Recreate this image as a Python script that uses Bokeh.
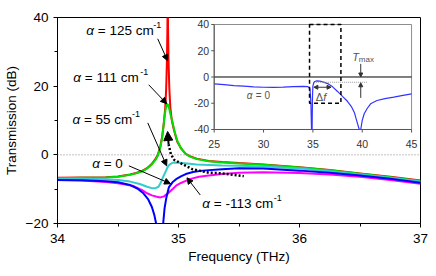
from bokeh.plotting import figure
from bokeh.models import (Range1d, FixedTicker, Arrow, NormalHead, Span, ColumnDataSource)
from bokeh.core.properties import value
from bokeh.embed import file_html
from bokeh.resources import INLINE

FONT = "Liberation Sans"

# ---------------- main data (frequency THz, transmission dB) ----------------
f_red = [34.0, 34.2, 34.4, 34.5, 34.6, 34.65, 34.7, 34.74, 34.78, 34.81, 34.83, 34.85,
         34.865, 34.878, 34.89, 34.898, 34.904, 34.908, 34.911, 34.914, 34.918, 34.924,
         34.932, 34.945, 34.96, 34.975, 34.99, 35.02, 35.06, 35.1, 35.15, 35.25, 35.36,
         35.5, 35.7, 36.0, 36.25, 36.5, 36.75, 37.0]
db_red = [-6.7, -6.6, -6.5, -6.3, -5.7, -5.3, -4.7, -3.9, -2.6, -1.2, 0.1, 2.5,
          5.3, 9.0, 13.5, 19.0, 27.0, 36.0, 46.0, 36.0, 27.0, 19.5,
          14.0, 10.0, 7.6, 5.6, 3.8, 1.9, 0.3, -0.5, -1.1, -1.8, -2.1,
          -2.4, -2.8, -3.6, -4.4, -5.4, -6.4, -7.5]

f_green = [34.0, 34.2, 34.4, 34.5, 34.6, 34.65, 34.7, 34.74, 34.78, 34.81, 34.83, 34.85,
           34.865, 34.875, 34.885, 34.895, 34.905, 34.915, 34.925, 34.935, 34.945, 34.957,
           34.97, 34.99, 35.02, 35.06, 35.1, 35.15, 35.25, 35.36, 35.5, 35.7, 36.0, 36.25,
           36.5, 36.75, 37.0]
db_green = [-6.8, -6.7, -6.6, -6.4, -5.8, -5.4, -4.8, -4.0, -2.8, -1.5, -0.2, 2.2,
            5.0, 8.0, 11.2, 13.6, 14.8, 14.5, 13.2, 11.6, 10.3, 8.5,
            6.5, 4.1, 2.0, 0.2, -0.6, -1.2, -1.9, -2.2, -2.5, -2.9, -3.7, -4.5,
            -5.5, -6.5, -7.6]

f_cyan = [34.0, 34.2, 34.4, 34.5, 34.6, 34.68, 34.74, 34.78, 34.81, 34.835, 34.855, 34.875,
          34.896, 34.91, 34.924, 34.95, 34.978, 35.03, 35.15, 35.36, 35.5, 35.7, 36.0,
          36.25, 36.5, 36.75, 37.0]
db_cyan = [-7.0, -7.0, -7.1, -7.3, -7.8, -8.5, -9.3, -9.7, -9.7, -9.3, -8.0, -6.3,
           -4.7, -3.6, -2.9, -2.3, -2.2, -2.4, -2.8, -3.1, -3.2, -3.4, -4.0,
           -4.8, -5.7, -6.7, -7.8]

f_blue = [34.0, 34.2, 34.4, 34.5, 34.6, 34.66, 34.71, 34.75, 34.78, 34.80, 34.815, 34.83,
          34.845, 34.86, 34.872, 34.885, 34.90, 34.92, 34.95, 34.98, 35.02, 35.06, 35.12,
          35.2, 35.36, 35.5, 35.7, 36.0, 36.25, 36.5, 36.75, 37.0]
db_blue = [-7.3, -7.4, -7.7, -8.0, -8.8, -9.8, -11.2, -13.0, -15.2, -17.5, -20.0, -24.0,
           -30.0, -25.0, -20.5, -15.5, -12.4, -9.5, -8.0, -7.1, -6.3, -5.6, -5.0,
           -4.6, -4.2, -3.9, -4.0, -4.6, -5.2, -6.0, -7.0, -8.1]

f_mag = [34.0, 34.2, 34.4, 34.5, 34.62, 34.70, 34.74, 34.78, 34.82, 34.85, 34.88, 34.92,
         34.95, 34.98, 35.02, 35.06, 35.1, 35.17, 35.25, 35.36, 35.5, 35.7, 36.0, 36.25,
         36.5, 36.75, 37.0]
db_mag = [-7.3, -7.5, -7.9, -8.3, -9.0, -10.3, -11.2, -11.8, -12.2, -12.4, -12.1, -11.0,
          -10.0, -9.0, -8.2, -7.6, -7.0, -6.4, -6.0, -5.6, -5.2, -5.1, -5.3, -5.7,
          -6.4, -7.3, -8.4]

# black dotted trend of the peaks
f_trend = [34.918, 34.937, 34.965, 35.033, 35.115, 35.25, 35.36, 35.54]
db_trend = [3.1, 0.2, -1.5, -2.7, -4.2, -5.2, -5.4, -6.2]

# ---------------- inset data (alpha = 0, 25-45 THz) ----------------
f_inset = [25.0, 26.0, 27.0, 28.0, 29.0, 30.0, 31.0, 32.0, 33.0, 34.0, 34.5, 34.7,
           34.8, 34.86, 34.92, 34.96, 35.0, 35.1, 35.2, 35.4, 35.7, 36.0, 36.5, 37.0,
           37.5, 38.0, 38.5, 38.9, 39.2, 39.5, 39.7, 39.85, 40.0, 40.2, 40.5, 40.85,
           41.5, 42.3, 43.2, 44.0, 45.0]
db_inset = [-5.2, -5.8, -6.5, -7.0, -7.5, -7.8, -7.9, -7.7, -7.4, -7.2, -7.4, -9.0,
            -20.0, -40.0, -40.0, -15.0, -7.0, -4.2, -3.4, -3.0, -3.2, -3.7, -5.0, -7.5,
            -11.0, -14.8, -18.5, -22.5, -27.0, -35.0, -40.0, -40.0, -33.0, -28.0, -24.0, -20.4,
            -17.9, -16.5, -15.4, -14.2, -12.8]
tmax_level = -4.0
tmax_span = [35.3, 40.5]
box_f = [34.66, 37.84]
box_db = [-20.0, 40.0]

# labels / ticks
alpha_labels = ["= 125 cm", "= 111 cm", "= 55 cm", "= 0", "= -113 cm"]
sup_labels = ["-1", "-1", "-1", "", "-1"]
x_ticks = [34, 35, 36, 37]
y_ticks = [-20, 0, 20, 40]
inset_x_ticks = [25, 30, 35, 40, 45]
inset_y_ticks = [-40, -20, 0, 20, 40]

# ---------------- figure ----------------
W, H = 436, 276
p = figure(width=W, height=H, x_range=Range1d(34, 37), y_range=Range1d(-20, 40),
           output_backend="svg", toolbar_location=None,
           min_border_left=54, min_border_right=16, min_border_top=17, min_border_bottom=53)
p.xgrid.visible = False
p.ygrid.visible = False
p.outline_line_color = "black"
p.outline_line_width = 1
p.background_fill_color = "white"
p.border_fill_color = "white"

for ax in (p.xaxis[0], p.yaxis[0]):
    ax.axis_line_color = "black"
    ax.major_tick_line_color = "black"
    ax.minor_tick_line_color = "black"
    ax.major_tick_in = 0
    ax.major_tick_out = 4
    ax.minor_tick_in = 0
    ax.minor_tick_out = 3
    ax.major_label_text_font = FONT
    ax.major_label_text_font_size = "13.5px"
    ax.major_label_text_color = "black"
    ax.axis_label_text_font = FONT
    ax.axis_label_text_font_size = "13.5px"
    ax.axis_label_text_font_style = "normal"
    ax.axis_label_text_color = "black"

p.xaxis[0].ticker = FixedTicker(ticks=x_ticks, minor_ticks=[34.5, 35.5, 36.5])
p.yaxis[0].ticker = FixedTicker(ticks=y_ticks, minor_ticks=[-10, 10, 30])
p.xaxis[0].axis_label = "Frequency (THz)"
p.yaxis[0].axis_label = "Transmission (dB)"
p.xaxis[0].major_label_standoff = 6
p.yaxis[0].major_label_standoff = 5
p.xaxis[0].axis_label_standoff = 3
p.yaxis[0].axis_label_standoff = 4

p.add_layout(Span(location=0, dimension="width", line_color="#888888",
                  line_dash="1 2", line_width=1))

# main curves
p.line(f_red, db_red, line_color="#ff0000", line_width=2)
p.line(f_green, db_green, line_color="#00dd00", line_width=2)
p.line(f_cyan, db_cyan, line_color="#33cccc", line_width=2)
p.line(f_mag, db_mag, line_color="#ff00ff", line_width=2)
p.line(f_blue, db_blue, line_color="#0000ff", line_width=2)

p.line(f_trend, db_trend, line_color="black", line_width=2.5, line_dash="2 2")
p.add_layout(Arrow(end=NormalHead(size=9, fill_color="black", line_color="black"),
                   x_start=f_trend[0], y_start=db_trend[0], x_end=34.91, y_end=6.8,
                   line_color="black", line_width=2))

# annotation arrows (main)
arr = ColumnDataSource(dict(
    x0=[34.828, 34.754, 34.746, 34.59, 35.18],
    y0=[33.8, 20.4, 9.3, -3.2, -11.7],
    x1=[34.91, 34.902, 34.902, 34.934, 35.07],
    y1=[27.4, 14.9, -3.2, -8.4, -6.7]))
p.add_layout(Arrow(end=NormalHead(size=6, fill_color="black", line_color="black"),
                   x_start="x0", y_start="y0", x_end="x1", y_end="y1", source=arr,
                   line_color="black", line_width=1))

lab = ColumnDataSource(dict(
    x=[34.238, 34.131, 34.123, 34.287, 35.197],
    y=[36.1, 22.4, 10.2, -2.6, -14.3],
    a=["α"] * 5,
    rest=alpha_labels,
    sup=sup_labels,
    sup_off=[67.0, 67.0, 59.5, 0, 71.5]))
p.text(x="x", y="y", text="a", source=lab, text_font=value(FONT),
       text_font_size="13.5px", text_font_style="italic", text_align="left",
       text_baseline="middle", text_color="black")
p.text(x="x", y="y", text="rest", source=lab, text_font=value(FONT),
       text_font_size="13.5px", text_align="left", text_baseline="middle",
       text_color="black", x_offset=11.5)
p.text(x="x", y="y", text="sup", source=lab, text_font=value(FONT),
       text_font_size="9px", text_align="left", text_baseline="middle",
       text_color="black", x_offset="sup_off", y_offset=-6)

# ---------------- inset (drawn through its own ranges) ----------------
p.extra_x_ranges = {"ix": Range1d(9.121, 45.905)}
p.extra_y_ranges = {"iy": Range1d(-111.62, 45.333)}
IR = dict(x_range_name="ix", y_range_name="iy")
X0, X1 = inset_x_ticks[0], inset_x_ticks[-1]
Y0, Y1 = inset_y_ticks[0], inset_y_ticks[-1]
TICK_X = 0.3   # ~3 px in inset x units
TICK_Y = 2.3   # ~3 px in inset y units

p.quad(left=[X0], right=[X1], bottom=[Y0], top=[Y1],
       fill_color="white", line_color="#8c8c8c", line_width=1, **IR)
p.line([X0, X1], [0, 0], line_color="black", line_width=1, **IR)

p.line(f_inset, db_inset, line_color="#3333ff", line_width=1.2, **IR)

p.quad(left=[box_f[0]], right=[box_f[1]], bottom=[box_db[0]], top=[box_db[1]],
       fill_alpha=0, line_color="black", line_dash="4 3", line_width=1.5, **IR)
p.line(tmax_span, [tmax_level, tmax_level], line_color="#999999", line_dash="1 1",
       line_width=1, **IR)

# inset axes: lines, ticks, labels
p.line([X0, X0], [Y0, Y1], line_color="#555555", line_width=1, **IR)
p.line([X0, X1], [Y0, Y0], line_color="#555555", line_width=1, **IR)
p.segment(x0=[X0] * len(inset_y_ticks), y0=inset_y_ticks,
          x1=[X0 - TICK_X] * len(inset_y_ticks), y1=inset_y_ticks,
          line_color="#555555", line_width=1, **IR)
p.segment(x0=inset_x_ticks, y0=[Y0] * len(inset_x_ticks),
          x1=inset_x_ticks, y1=[Y0 - TICK_Y] * len(inset_x_ticks),
          line_color="#555555", line_width=1, **IR)
p.text(x=[X0] * len(inset_y_ticks), y=inset_y_ticks, text=[str(t) for t in inset_y_ticks],
       text_font=value(FONT), text_font_size="10.5px", text_color="#333333",
       text_align="right", text_baseline="middle", x_offset=-5, **IR)
p.text(x=inset_x_ticks, y=[Y0] * len(inset_x_ticks), text=[str(t) for t in inset_x_ticks],
       text_font=value(FONT), text_font_size="10.5px", text_color="#333333",
       text_align="center", text_baseline="top", y_offset=11, **IR)

ia = ColumnDataSource(dict(x0=[39.85, 39.85], y0=[10.0, -15.9],
                           x1=[39.85, 39.85], y1=[0.0, -4.4]))
p.add_layout(Arrow(end=NormalHead(size=4, fill_color="#333333", line_color="#333333"),
                   x_start="x0", y_start="y0", x_end="x1", y_end="y1", source=ia,
                   line_color="#333333", line_width=1, **IR))
p.add_layout(Arrow(start=NormalHead(size=4, fill_color="#333333", line_color="#333333"),
                   end=NormalHead(size=4, fill_color="#333333", line_color="#333333"),
                   x_start=35.1, y_start=-7.8, x_end=36.84, y_end=-7.8,
                   line_color="#333333", line_width=1, **IR))

p.text(x=[28.3], y=[-14.1], text=["α"], text_font=value(FONT), text_font_size="10px",
       text_font_style="italic", text_align="left", text_baseline="middle",
       text_color="#555555", **IR)
p.text(x=[28.3], y=[-14.1], text=["= 0"], text_font=value(FONT), text_font_size="10px",
       text_align="left", text_baseline="middle", text_color="#555555", x_offset=9, **IR)
p.text(x=[35.3], y=[-15.4], text=["Δ"], text_font=value(FONT), text_font_size="11px",
       text_align="left", text_baseline="middle", text_color="#555555", **IR)
p.text(x=[35.3], y=[-15.4], text=["f"], text_font=value(FONT), text_font_size="11px",
       text_font_style="italic", text_align="left", text_baseline="middle",
       text_color="#555555", x_offset=7.5, **IR)
p.text(x=[39.0], y=[15.0], text=["T"], text_font=value(FONT), text_font_size="11px",
       text_font_style="italic", text_align="left", text_baseline="middle",
       text_color="#555555", **IR)
p.text(x=[39.0], y=[15.0], text=["max"], text_font=value(FONT), text_font_size="8px",
       text_align="left", text_baseline="middle", text_color="#555555",
       x_offset=6.5, y_offset=2.5, **IR)

open("out.html", "w").write(file_html(p, INLINE))
